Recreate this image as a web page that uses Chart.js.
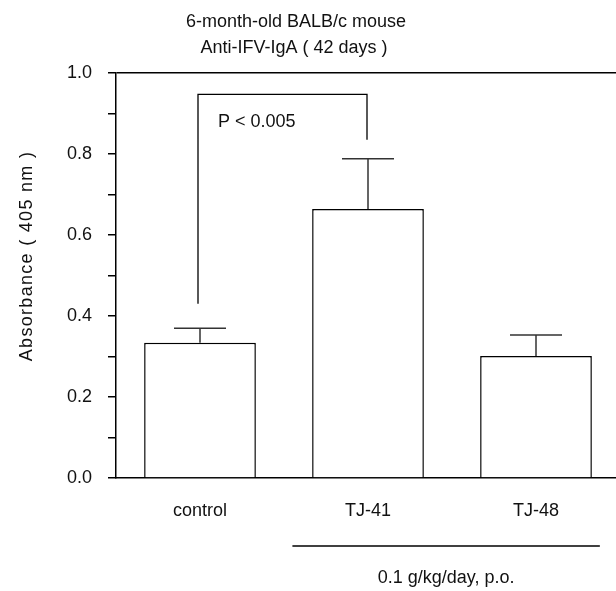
<!DOCTYPE html>
<html>
<head>
<meta charset="utf-8">
<script src="https://cdn.jsdelivr.net/npm/chart.js@4"></script>
<style>
  html, body { margin: 0; padding: 0; background: #fff; overflow: hidden; }
  #wrap { width: 620px; height: 591px; position: relative; }
</style>
</head>
<body>
<div id="wrap"><canvas id="myChart"></canvas></div>
<script>
// data
const groups = ['control', 'TJ-41', 'TJ-48'];
const means = [0.334, 0.664, 0.301];
const errTops = [0.37, 0.788, 0.353];

// significance bracket: [group index, lower end]
const bracketLeft = [0, 0.43];
const bracketRight = [1, 0.835];
const bracketTop = 0.947;
const pLabel = 'P < 0.005';

// treatment underline spans these category positions
const doseSpan = [0.55, 2.38];
const doseLabel = '0.1 g/kg/day, p.o.';

const titleLines = ['6-month-old BALB/c mouse', 'Anti-IFV-IgA ( 42 days )'];
const yTitle = 'Absorbance ( 405 nm )';

const FONT = '"Liberation Sans", Arial, sans-serif';

const extras = {
    id: 'extras',
    afterDatasetsDraw(chart) {
        const c = chart.ctx;
        const x = chart.scales.x;
        const y = chart.scales.y;
        c.save();
        // error bars
        c.strokeStyle = '#333';
        c.lineWidth = 1.5;
        means.forEach((m, i) => {
            const px = x.getPixelForValue(i);
            const top = y.getPixelForValue(errTops[i]);
            c.beginPath();
            c.moveTo(px, y.getPixelForValue(m));
            c.lineTo(px, top);
            c.moveTo(px - 26, top);
            c.lineTo(px + 26, top);
            c.stroke();
        });
        // bracket
        const lx = x.getPixelForValue(bracketLeft[0]) - 2;
        const rx = x.getPixelForValue(bracketRight[0]) - 1;
        const ty = y.getPixelForValue(bracketTop);
        c.strokeStyle = '#000';
        c.lineWidth = 1.3;
        c.beginPath();
        c.moveTo(lx, y.getPixelForValue(bracketLeft[1]));
        c.lineTo(lx, ty);
        c.lineTo(rx, ty);
        c.lineTo(rx, y.getPixelForValue(bracketRight[1]));
        c.stroke();
        c.fillStyle = '#111';
        c.font = '18px ' + FONT;
        c.textAlign = 'left';
        c.textBaseline = 'middle';
        c.fillText(pLabel, lx + 20, ty + 28);

        // dose line under TJ groups
        const d0 = x.getPixelForValue(doseSpan[0]);
        const d1 = x.getPixelForValue(doseSpan[1]);
        c.lineWidth = 1.3;
        c.beginPath();
        c.moveTo(d0, 546);
        c.lineTo(d1, 546);
        c.stroke();
        c.textAlign = 'center';
        c.fillText(doseLabel, (d0 + d1) / 2, 578);

        // title
        c.fillText(titleLines[0], 296, 22);
        c.fillText(titleLines[1], 294, 48);

        // y axis title, a bit spaced out like the original
        c.save();
        c.translate(27, 256);
        c.rotate(-Math.PI / 2);
        c.letterSpacing = '1.3px';
        c.fillText(yTitle, 0, 0);
        c.restore();
        c.restore();
    }
};

const ctx = document.querySelector('#myChart').getContext('2d');
const myChart = new Chart(ctx, {
    type: 'bar',
    data: {
        labels: groups,
        datasets: [{
            data: means,
            backgroundColor: '#fff',
            borderColor: '#000',
            borderWidth: 1.5,
            barPercentage: 1,
            categoryPercentage: 0.665,
        }]
    },
    options: {
        responsive: true,
        maintainAspectRatio: false,
        animation: false,
        layout: { padding: { top: 73, right: 0, bottom: 0, left: 0 } },
        plugins: {
            legend: { display: false },
            tooltip: { enabled: false },
        },
        scales: {
            x: {
                afterFit: (scale) => { scale.height = 113; },
                grid: { display: false },
                border: { display: true, color: '#000', width: 1.5 },
                ticks: {
                    color: '#111',
                    padding: 14,
                    font: { family: FONT, size: 18 },
                },
            },
            y: {
                min: 0,
                max: 1,
                afterFit: (scale) => { scale.width = 116; },
                border: { display: true, color: '#000', width: 1.5 },
                grid: {
                    drawOnChartArea: true,
                    drawTicks: true,
                    tickLength: 8,
                    lineWidth: 1.5,
                    color: (c) => (c.tick && c.tick.value > 0.999 ? '#000' : 'rgba(0,0,0,0)'),
                    tickColor: '#000',
                },
                ticks: {
                    stepSize: 0.1,
                    padding: 16,
                    color: '#111',
                    font: { family: FONT, size: 18 },
                    callback: function (value) {
                        const n = Math.round(value * 10);
                        return n % 2 === 0 ? (n / 10).toFixed(1) : '';
                    }
                },
            },
        },
    },
    plugins: [extras],
});
</script>
</body>
</html>
